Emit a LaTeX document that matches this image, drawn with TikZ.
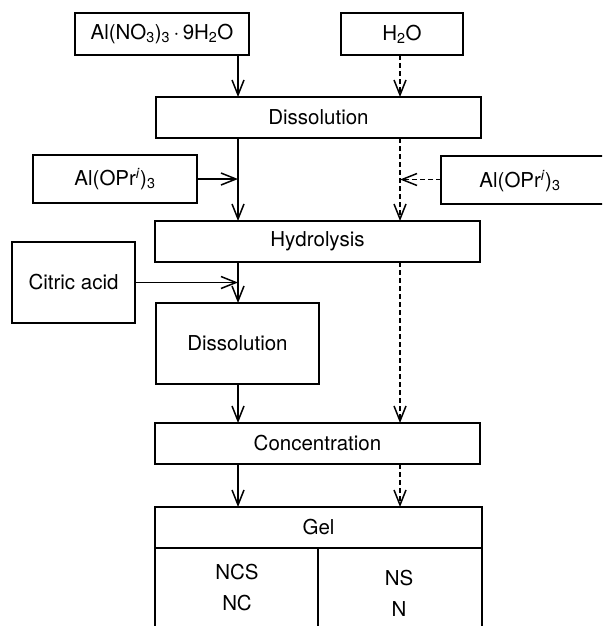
\documentclass[tikz,border=0pt]{standalone}
\usepackage{fontspec}
\setmainfont{TeX Gyre Heros}
\usetikzlibrary{arrows.meta}
\newcommand\figfont{\fontsize{20.5}{31}\selectfont}
\tikzset{
  box/.style={draw, line width=2pt, inner sep=0pt, outer sep=0pt, font=\figfont, align=center},
  txt/.style={inner sep=0pt, font=\figfont, align=center},
  flow/.style={line width=1.5pt, -{Straight Barb[length=15pt,width=12pt,line width=1.5pt]}},
  dflow/.style={flow, dash pattern=on 5pt off 3pt},
}
\begin{document}
\begin{tikzpicture}[x=1pt, y=-1pt]
\useasboundingbox (0,0) rectangle (602,626);
\clip (0,0) rectangle (602,626);
\fill[white] (0,0) rectangle (602,626);
% guide coordinates for the two flow lines
\coordinate (L) at (238,0);
\coordinate (R) at (400,0);
% boxes
\node[box, minimum width=174pt, minimum height=42pt] (alno) at (162,34) {Al(NO\textsubscript{3})\textsubscript{3}\,$\cdot$\,9H\textsubscript{2}O};
\node[box, minimum width=122pt, minimum height=42pt] (water) at (402,34) {H\textsubscript{2}O};
\node[box, minimum width=325pt, minimum height=41pt] (dis1) at (318.5,117.5) {Dissolution};
\node[box, minimum width=164pt, minimum height=48pt] (oprL) at (115,179) {Al(OPr\textsuperscript{\textit{i}})\textsubscript{3}};
\node[box, minimum width=164pt, minimum height=48pt] (oprR) at (523,179.5) {};
\node[txt] (oprRtext) at (520,181) {Al(OPr\textsuperscript{\textit{i}})\textsubscript{3}};
\node[box, minimum width=325pt, minimum height=41pt] (hyd) at (317.5,241.5) {Hydrolysis};
\node[box, minimum width=123pt, minimum height=81pt] (cit) at (73.5,282.5) {Citric acid};
\node[box, minimum width=163pt, minimum height=81pt] (dis2) at (237.5,343.5) {Dissolution};
\node[box, minimum width=325pt, minimum height=41pt] (conc) at (317.5,443.5) {Concentration};
\node[box, minimum width=327pt, minimum height=41pt] (gel) at (318.5,527.5) {Gel};
\node[box, minimum width=163pt, minimum height=110pt] (colL) at (236.5,603) {};
\node[box, minimum width=164pt, minimum height=110pt] (colR) at (400,603) {};
\node[txt] (ncs) at (237,588) {NCS\\NC};
\node[txt] (ns) at (399,593) {NS\\N};
% solid flow
\draw[flow] (alno.south -| L) -- (dis1.north -| L);
\draw[flow] (dis1.south -| L) -- (hyd.north -| L);
\draw[flow] (oprL.east) -- (oprL.east -| L);
\draw[flow] (hyd.south -| L) -- (dis2.north -| L);
\draw[flow] (cit.east) -- (cit.east -| L);
\draw[flow] (dis2.south -| L) -- (conc.north -| L);
\draw[flow] (conc.south -| L) -- (gel.north -| L);
% dashed flow
\draw[dflow] (water.south -| R) -- (dis1.north -| R);
\draw[dflow] (dis1.south -| R) -- (hyd.north -| R);
\draw[dflow] (oprR.west) -- (oprR.west -| R);
\draw[dflow] (hyd.south -| R) -- (conc.north -| R);
\draw[dflow] (conc.south -| R) -- (gel.north -| R);
\end{tikzpicture}
\end{document}
